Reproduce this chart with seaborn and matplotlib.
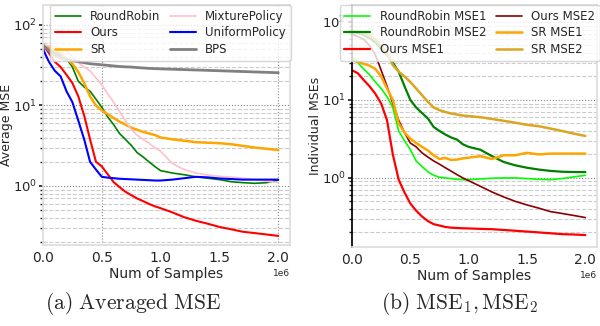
import numpy as np
import pandas as pd
import matplotlib
matplotlib.use("Agg")
import matplotlib.pyplot as plt
import seaborn as sns

# ---- data (x in units of 1e6 samples) ----
x_k = [0, 0.05, 0.1, 0.15, 0.2, 0.25, 0.3, 0.35, 0.4, 0.45, 0.5, 0.55, 0.6, 0.65, 0.7,
       0.75, 0.8, 0.85, 0.9, 0.95, 1.0, 1.1, 1.2, 1.3, 1.4, 1.5, 1.6, 1.7, 1.8, 1.9, 2.0]

# Left panel: averaged MSE
rr_avg = [56, 50, 45, 42, 38, 30, 20, 17, 15, 12, 9.5, 7.2, 5.8, 4.5, 3.8, 3.2, 2.6, 2.3, 2.0,
          1.75, 1.55, 1.45, 1.38, 1.3, 1.25, 1.2, 1.13, 1.1, 1.08, 1.1, 1.18]
ours_avg = [56, 45, 35, 30, 24, 19, 13, 7.5, 3.8, 2.0, 1.75, 1.4, 1.12, 0.97, 0.85, 0.77, 0.7,
            0.65, 0.6, 0.56, 0.53, 0.47, 0.41, 0.37, 0.34, 0.31, 0.29, 0.27, 0.26, 0.25, 0.24]
sr_avg = [56, 52, 48, 44, 38, 33, 26, 19, 13, 10, 8.7, 7.8, 7.0, 6.3, 5.8, 5.3, 5.0, 4.7, 4.5,
          4.3, 4.0, 3.8, 3.65, 3.5, 3.45, 3.4, 3.3, 3.15, 3.0, 2.9, 2.8]
mix_avg = [56, 55, 54, 52, 48, 40, 34, 30, 27, 22, 18, 14, 11, 8.5, 6.5, 5.0, 4.3, 3.8, 3.4,
           3.0, 2.7, 1.9, 1.6, 1.45, 1.37, 1.32, 1.29, 1.25, 1.2, 1.15, 1.1]
uni_avg = [50, 35, 27, 23, 15, 11, 6.5, 3.8, 2.0, 1.6, 1.3, 1.27, 1.25, 1.23, 1.22, 1.21, 1.2,
           1.19, 1.18, 1.17, 1.17, 1.2, 1.25, 1.3, 1.28, 1.24, 1.22, 1.2, 1.2, 1.2, 1.2]
bps_avg = [56, 48, 42, 39, 37, 36, 35, 34, 33, 32.5, 32, 31.5, 31, 30.5, 30.2, 30, 29.6, 29.2,
           28.9, 28.7, 28.5, 28.2, 27.9, 27.6, 27.3, 27, 26.7, 26.4, 26.1, 25.8, 25.5]

# Right panel: individual MSEs
rr_mse1 = [36, 30, 25, 21, 17, 14, 11, 8, 4, 3, 2.3, 1.65, 1.4, 1.2, 1.08, 1.02, 1.0, 0.98,
           0.96, 0.95, 0.95, 0.97, 0.99, 1.0, 1.0, 0.98, 0.96, 0.95, 0.98, 1.03, 1.08]
rr_mse2 = [75, 72, 68, 62, 55, 45, 38, 30, 23, 15, 10, 8, 6.8, 5.8, 4.5, 4.0, 3.6, 3.3, 3.1,
           2.7, 2.5, 2.3, 1.9, 1.6, 1.45, 1.35, 1.28, 1.23, 1.2, 1.19, 1.19]
ours_mse1 = [24, 22, 18, 15, 12, 9, 5.5, 2.0, 0.95, 0.65, 0.47, 0.38, 0.32, 0.28, 0.255, 0.245,
             0.235, 0.23, 0.228, 0.226, 0.225, 0.222, 0.22, 0.215, 0.21, 0.205, 0.2, 0.195,
             0.19, 0.188, 0.185]
ours_mse2 = [70, 65, 60, 50, 38, 24, 15, 9, 5.5, 3.8, 2.8, 2.5, 2.1, 1.85, 1.65, 1.5, 1.35,
             1.22, 1.1, 1.0, 0.92, 0.78, 0.66, 0.57, 0.5, 0.45, 0.41, 0.37, 0.35, 0.33, 0.31]
sr_mse1 = [32, 31, 29, 27.5, 25, 20, 14, 10, 5, 3.8, 3.2, 2.8, 2.5, 2.25, 1.95, 1.75, 1.8, 1.7,
           1.72, 1.78, 1.82, 1.9, 1.75, 1.95, 1.95, 2.1, 2.0, 2.05, 2.05, 2.05, 2.05]
sr_mse2 = [78, 75, 72, 68, 60, 50, 40, 28, 23, 20, 17, 14, 11.5, 9.5, 8.0, 7.4, 7.0, 6.7, 6.5,
           6.3, 6.2, 6.0, 5.7, 5.4, 5.1, 4.8, 4.6, 4.3, 4.0, 3.7, 3.45]

left_series = [("RoundRobin", rr_avg, "green", 1.2),
               ("Ours", ours_avg, "red", 1.5),
               ("SR", sr_avg, "orange", 1.8),
               ("MixturePolicy", mix_avg, "pink", 1.2),
               ("UniformPolicy", uni_avg, "blue", 1.5),
               ("BPS", bps_avg, "gray", 2.0)]
right_series = [("RoundRobin MSE1", rr_mse1, "lime", 1.2),
                ("RoundRobin MSE2", rr_mse2, "green", 1.6),
                ("Ours MSE1", ours_mse1, "red", 1.6),
                ("Ours MSE2", ours_mse2, "darkred", 1.2),
                ("SR MSE1", sr_mse1, "orange", 1.8),
                ("SR MSE2", sr_mse2, "goldenrod", 1.8)]

xs = np.array(x_k) * 1e6

sns.set_theme(style="white")
plt.rcParams["font.family"] = ["DejaVu Sans"]

fig = plt.figure(figsize=(6.0, 3.26), dpi=100)
axL = fig.add_axes([43/600, 1-245/326, 247/600, 240/326])
axR = fig.add_axes([352/600, 1-247/326, 245/600, 242/326])


def draw(ax, series, ylim, ylabel, legend_anchor):
    for name, vals, col, lw in series:
        df = pd.DataFrame({"x": xs, "y": vals})
        sns.lineplot(data=df, x="x", y="y", ax=ax, color=col, lw=lw, label=name,
                     errorbar=None)
    ax.set_yscale("log")
    ax.set_xlim(0, 2.1e6)
    ax.set_ylim(*ylim)
    ax.set_xticks(np.array([0, 0.5, 1.0, 1.5, 2.0]) * 1e6)
    ax.grid(False)
    ax.yaxis.grid(True, which="major", ls=":", color="#888888", lw=0.8)
    ax.yaxis.grid(True, which="minor", ls="--", color="#cccccc", lw=0.8)
    ax.tick_params(axis="both", which="major", labelsize=10, length=3, left=True,
                   bottom=False, pad=1.5)
    ax.tick_params(axis="y", which="major", labelsize=9.5)
    ax.tick_params(axis="y", which="minor", left=True, length=2)
    ax.set_xlabel("Num of Samples", fontsize=10, labelpad=1)
    ax.set_ylabel(ylabel, fontsize=9, labelpad=0)
    ax.xaxis.get_offset_text().set_fontsize(6.5)
    for s in ax.spines.values():
        s.set_color("#dddddd")
    leg = ax.legend(ncol=2, loc="upper left", bbox_to_anchor=legend_anchor,
                    fontsize=8.5, borderaxespad=0, columnspacing=0.8,
                    handlelength=2.2, labelspacing=0.3, framealpha=0.8,
                    edgecolor="#cccccc", fancybox=True)
    return leg


draw(axL, left_series, (0.185, 177), "Average MSE", (0.028, 1.0))
for v in [0.5e6, 2.0e6]:
    axL.axvline(v, ls=":", color="#888888", lw=0.8, zorder=0)

draw(axR, right_series, (0.13, 165), "Individual MSEs", (-0.05, 1.0))
axR.spines["left"].set_color("black")

fig.text(0.222, 0.07, r"$\mathrm{(a)\ Averaged\ MSE}$", ha="center", va="center",
         fontsize=15.5, math_fontfamily="cm")
fig.text(0.765, 0.07, r"$\mathrm{(b)\ MSE_1, MSE_2}$", ha="center", va="center",
         fontsize=15.5, math_fontfamily="cm")

fig.savefig("out.png", dpi=100)
